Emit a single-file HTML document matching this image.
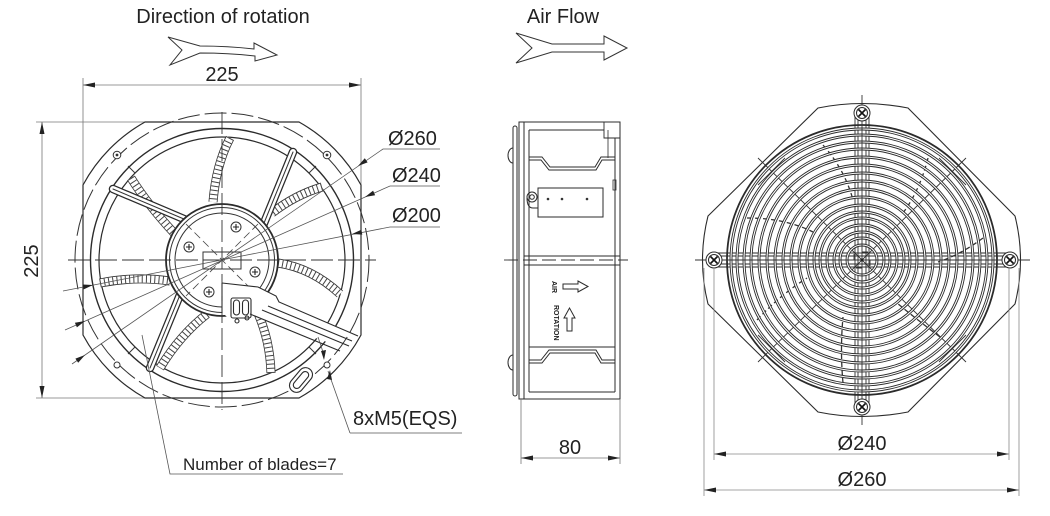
<!DOCTYPE html>
<html><head><meta charset="utf-8"><style>
html,body{margin:0;padding:0;background:#fff;}
svg{display:block;}
text{font-family:"Liberation Sans",Arial,sans-serif;fill:#222;}
</style></head><body>
<svg width="1050" height="516" viewBox="0 0 1050 516" xmlns="http://www.w3.org/2000/svg">
<rect width="1050" height="516" fill="#fff"/>

<!-- Titles -->
<text x="223" y="23" font-size="20" text-anchor="middle">Direction of rotation</text>
<text x="563" y="23" font-size="20" text-anchor="middle">Air Flow</text>
<path d="M168,37 L200,46 Q228,46 254,49 L254,43 L277,55 L255,61 L255,56 Q228,53 200,53 L170,65 L182,50 Z" fill="#fff" stroke="#333" stroke-width="1"/>
<path d="M516,33 L552,44 L604,44 L604,36 L627,48 L604,60 L604,52 L552,52 L516,63 L532,48 Z" fill="#fff" stroke="#333" stroke-width="1"/>

<!-- ================= FRONT VIEW ================= -->
<g stroke="#777" stroke-width="0.8" fill="none">
  <line x1="83" y1="78" x2="83" y2="186"/>
  <line x1="361" y1="78" x2="361" y2="186"/>
  <line x1="83" y1="85" x2="361" y2="85"/>
  <line x1="36" y1="122" x2="146" y2="122"/>
  <line x1="36" y1="398" x2="146" y2="398"/>
  <line x1="42" y1="122" x2="42" y2="398"/>
</g>
<g fill="#222">
  <polygon points="83,85 95,82.5 95,87.5"/>
  <polygon points="361,85 349,82.5 349,87.5"/>
  <polygon points="42,122 39.5,134 44.5,134"/>
  <polygon points="42,398 39.5,386 44.5,386"/>
</g>
<text x="222" y="81" font-size="20" text-anchor="middle">225</text>
<text transform="translate(38,261) rotate(-90)" font-size="20" text-anchor="middle">225</text>

<!-- flange -->
<path d="M145,122 L299,122 A158,158 0 0 1 361,185 L361,335 A158,158 0 0 1 299,398 L145,398 A158,158 0 0 1 83,335 L83,185 A158,158 0 0 1 145,122 Z" fill="none" stroke="#2b2b2b" stroke-width="1.2"/>
<circle cx="222" cy="260" r="147" fill="none" stroke="#333" stroke-width="1" stroke-dasharray="22 5"/>
<circle cx="222" cy="260" r="131.5" fill="none" stroke="#2b2b2b" stroke-width="1.4"/>
<circle cx="222" cy="260" r="123" fill="none" stroke="#2b2b2b" stroke-width="1.2"/>
<g stroke="#333" stroke-width="1">
  <line x1="128" y1="166" x2="135" y2="173"/>
  <line x1="316" y1="166" x2="309" y2="173"/>
  <line x1="128" y1="354" x2="135" y2="347"/>
  <line x1="316" y1="354" x2="309" y2="347"/>
</g>
<g stroke="#333" stroke-width="1" fill="#fff">
  <circle cx="117" cy="155" r="3.8"/><circle cx="327" cy="155" r="3.8"/>
  <circle cx="117" cy="365" r="3"/><circle cx="327" cy="365" r="3"/>
</g>
<g fill="#333"><circle cx="117" cy="155" r="1.4"/><circle cx="327" cy="155" r="1.4"/></g>

<!-- hatched blade bands -->
<g fill="none" stroke-linecap="butt">
  <g stroke="#333" stroke-width="9">
    <path d="M230,138 Q216,165 213,202"/><path d="M131,178 Q148,205 174,233"/><path d="M322,187 Q295,195 272,213"/>
    <path d="M278,263 Q312,268 340,294"/><path d="M100,283 Q135,276 170,281"/><path d="M207,314 Q180,335 160,368"/>
    <path d="M257,311 Q270,340 271,373"/>
  </g>
  <g stroke="#fff" stroke-width="7.4">
    <path d="M230,138 Q216,165 213,202"/><path d="M131,178 Q148,205 174,233"/><path d="M322,187 Q295,195 272,213"/>
    <path d="M278,263 Q312,268 340,294"/><path d="M100,283 Q135,276 170,281"/><path d="M207,314 Q180,335 160,368"/>
    <path d="M257,311 Q270,340 271,373"/>
  </g>
  <g stroke="#444" stroke-width="7.4" stroke-dasharray="1 3.2">
    <path d="M230,138 Q216,165 213,202"/><path d="M131,178 Q148,205 174,233"/><path d="M322,187 Q295,195 272,213"/>
    <path d="M278,263 Q312,268 340,294"/><path d="M100,283 Q135,276 170,281"/><path d="M207,314 Q180,335 160,368"/>
    <path d="M257,311 Q270,340 271,373"/>
  </g>
</g>
<!-- spokes -->
<g fill="none" stroke-linecap="round">
  <g stroke="#2b2b2b" stroke-width="8.5">
    <path d="M113,189 L191,222"/><path d="M293,152 L262,228"/><path d="M182,290 L150,368"/>
  </g>
  <g stroke="#fff" stroke-width="6">
    <path d="M113,189 L191,222"/><path d="M293,152 L262,228"/><path d="M182,290 L150,368"/>
  </g>
  <g stroke="#333" stroke-width="1">
    <path d="M113,189 L191,222"/><path d="M293,152 L262,228"/><path d="M182,290 L150,368"/>
  </g>
</g>
<!-- hub -->
<circle cx="222" cy="260" r="56" fill="#fff" stroke="#2b2b2b" stroke-width="1.8"/>
<circle cx="222" cy="260" r="52.5" fill="none" stroke="#333" stroke-width="1"/>
<circle cx="222" cy="260" r="47" fill="none" stroke="#333" stroke-width="1"/>
<rect x="203" y="252" width="38" height="17" fill="none" stroke="#333" stroke-width="1"/>
<g stroke="#333" stroke-width="1" fill="#fff">
  <circle cx="236" cy="227" r="5"/><circle cx="189" cy="247" r="5"/><circle cx="255" cy="272" r="5"/><circle cx="209" cy="292" r="5"/>
</g>
<g stroke="#222" stroke-width="1.1">
  <path d="M233,227 h6 M236,224 v6"/><path d="M186,247 h6 M189,244 v6"/><path d="M252,272 h6 M255,269 v6"/><path d="M206,292 h6 M209,289 v6"/>
</g>
<g stroke="#444" stroke-width="0.8" stroke-dasharray="8 4" fill="none">
  <line x1="186" y1="224" x2="258" y2="296"/><line x1="258" y1="224" x2="186" y2="296"/>
</g>

<!-- cable channel -->
<path d="M222,283 L258,287 L276,296 L279,302 L345,330 L338,346 L249,314 L240,321 L229,319 L222,312 Z" fill="#fff" stroke="none"/>
<g fill="none" stroke="#2b2b2b" stroke-width="1.1">
  <path d="M222,283 L258,287 L276,296 L279,302 L358,336"/>
  <path d="M268,306 L352,341"/>
  <path d="M262,310 L349,346"/>
  <path d="M250,314 L340,351"/>
  <line x1="222" y1="283" x2="222" y2="312"/>
  <rect x="231" y="298" width="20" height="20" rx="2"/>
  <rect x="233.5" y="300" width="6" height="15" rx="3"/>
  <rect x="242.5" y="300" width="6" height="15" rx="3"/>
  <circle cx="237" cy="321" r="2"/><circle cx="247" cy="318" r="2"/>
</g>
<g transform="translate(301,380) rotate(-50)" fill="#fff" stroke="#2b2b2b" stroke-width="1.1">
  <rect x="-14" y="-7" width="28" height="14" rx="7"/>
  <rect x="-10" y="-3.5" width="20" height="7" rx="3.5"/>
</g>

<!-- center lines -->
<g stroke="#333" stroke-width="0.9" fill="none" stroke-dasharray="22 5">
  <line x1="68" y1="260" x2="376" y2="260"/>
  <line x1="222" y1="112" x2="222" y2="410"/>
</g>

<!-- diameter leader lines -->
<g stroke="#555" stroke-width="0.8" fill="none">
  <path d="M72,364 L383,149 L440,149"/>
  <path d="M65,330 L390,186 L440,186"/>
  <path d="M63,291 L390,227 L440,227"/>
  <path d="M142,335 L170,474 L343,474"/>
  <path d="M350,433 L462,433"/>
  <path d="M350,433 L328,371"/>
  <path d="M318,337 L323,352"/>
</g>
<g fill="#222">
  <polygon points="85,355 78.2,362.8 75.4,358.6"/>
  <polygon points="358,166 367.6,162.4 364.8,158.2"/>
  <polygon points="85,321 76.9,327.4 74.9,322.8"/>
  <polygon points="365,197 375.1,195.2 373.1,190.6"/>
  <polygon points="93,285 83.7,289.4 82.7,284.5"/>
  <polygon points="352,234 362.3,234.6 361.3,229.7"/>
  <polygon points="324,360 321,351 326,350"/>
  <polygon points="330,370 327,379 332,380"/>
</g>
<text x="388" y="145" font-size="20">Ø260</text>
<text x="392" y="182" font-size="20">Ø240</text>
<text x="392" y="222" font-size="20">Ø200</text>
<text x="353" y="425" font-size="20">8xM5(EQS)</text>
<text x="183" y="470" font-size="17">Number of blades=7</text>

<!-- ================= SIDE VIEW ================= -->
<g fill="none" stroke="#2b2b2b" stroke-width="1">
  <rect x="513" y="126" width="4" height="270" rx="2"/>
  <rect x="519" y="122" width="5" height="277"/>
  <rect x="524" y="122" width="96" height="277"/>
  <line x1="529" y1="130" x2="529" y2="392"/>
  <line x1="615" y1="138" x2="615" y2="392"/>
  <line x1="529" y1="130" x2="604" y2="130"/>
  <line x1="529" y1="392" x2="615" y2="392"/>
  <polyline points="604,122 604,138 620,138" stroke-width="0.9"/>
  <line x1="608" y1="130" x2="608" y2="158" stroke-width="0.8"/>
  <polyline points="529,157 542,157 550,167 595,167 601,157 615,157"/>
  <polyline points="529,160 541,160 549,170 596,170 602,160 615,160"/>
  <polyline points="529,363 542,363 550,353 595,353 601,363 615,363"/>
  <polyline points="529,360 541,360 549,350 596,350 602,360 615,360"/>
  <line x1="529" y1="347" x2="615" y2="347"/>
  <rect x="538" y="188" width="65" height="29"/>
  <circle cx="532" cy="197" r="5"/>
  <circle cx="532" cy="197" r="2.3"/>
  <path d="M527,198 Q527,208 533,208 L538,208"/>
  <line x1="524" y1="256" x2="620" y2="256"/>
  <line x1="524" y1="265" x2="620" y2="265"/>
  <path d="M513,148 A5,7.5 0 0 0 513,163"/>
  <path d="M513,355 A5,7.5 0 0 0 513,370"/>
  <rect x="613" y="180" width="3" height="10" stroke-width="0.8"/>
  <path d="M563,284 L578,284 L578,281 L588,286.5 L578,292 L578,289 L563,289 Z"/>
  <path d="M567,331 L567,318 L564,318 L569.5,308 L575,318 L572,318 L572,331 Z"/>
</g>
<g fill="#333"><circle cx="548" cy="199" r="1.3"/><circle cx="562" cy="199" r="1.3"/><circle cx="587" cy="199" r="1.3"/></g>
<line x1="504" y1="260" x2="628" y2="260" stroke="#333" stroke-width="0.9" stroke-dasharray="14 5"/>
<text transform="translate(552,281) rotate(90)" font-size="7" font-weight="bold">AIR</text>
<text transform="translate(554,305) rotate(90)" font-size="7" font-weight="bold">ROTATION</text>
<g stroke="#777" stroke-width="0.8">
  <line x1="521" y1="399" x2="521" y2="464"/>
  <line x1="620" y1="399" x2="620" y2="464"/>
  <line x1="521" y1="458" x2="620" y2="458"/>
</g>
<g fill="#222">
  <polygon points="521,458 533,455.5 533,460.5"/>
  <polygon points="620,458 608,455.5 608,460.5"/>
</g>
<text x="570" y="454" font-size="20" text-anchor="middle">80</text>

<!-- ================= GRILLE VIEW ================= -->
<path d="M818,108 Q862,99 908,108 L1015,216 Q1026,260 1015,304 L908,412 Q862,421 818,412 L708,304 Q697,260 708,216 Z" fill="none" stroke="#2b2b2b" stroke-width="1.1"/>
<g fill="none" stroke="#333" stroke-width="1.3" stroke-dasharray="5 3">
  <path d="M747,218 Q785,218 813,232"/>
  <path d="M823,145 Q845,170 853,200"/>
  <path d="M928,158 Q920,190 903,213"/>
  <path d="M983,238 Q960,255 938,262"/>
  <path d="M940,337 Q915,318 897,303"/>
  <path d="M843,383 Q840,350 843,317"/>
  <path d="M757,320 Q780,295 807,278"/>
</g>
<g stroke="#333" stroke-width="0.9">
  <line x1="758" y1="158" x2="966" y2="362"/>
  <line x1="966" y1="158" x2="758" y2="362"/>
  <line x1="758" y1="185" x2="785" y2="158"/>
  <line x1="939" y1="158" x2="966" y2="185"/>
  <line x1="758" y1="335" x2="785" y2="362"/>
  <line x1="939" y1="362" x2="966" y2="335"/>
</g>
<!-- spoke bars (line pairs) -->
<g stroke="#2b2b2b" stroke-width="0.9">
  <line x1="855" y1="113" x2="855" y2="407"/><line x1="858" y1="113" x2="858" y2="407"/>
  <line x1="866" y1="113" x2="866" y2="407"/><line x1="869" y1="113" x2="869" y2="407"/>
  <line x1="714" y1="253" x2="1010" y2="253"/><line x1="714" y1="256" x2="1010" y2="256"/>
  <line x1="714" y1="264" x2="1010" y2="264"/><line x1="714" y1="267" x2="1010" y2="267"/>
</g>
<!-- rings -->
<g fill="none" stroke="#2b2b2b" stroke-width="2.9">
  <circle cx="862" cy="260" r="15"/><circle cx="862" cy="260" r="22"/>
  <circle cx="862" cy="260" r="28"/><circle cx="862" cy="260" r="35"/><circle cx="862" cy="260" r="42"/>
  <circle cx="862" cy="260" r="48"/><circle cx="862" cy="260" r="55"/><circle cx="862" cy="260" r="63"/>
  <circle cx="862" cy="260" r="71"/><circle cx="862" cy="260" r="79"/><circle cx="862" cy="260" r="87"/>
  <circle cx="862" cy="260" r="95"/><circle cx="862" cy="260" r="103"/><circle cx="862" cy="260" r="111"/>
  <circle cx="862" cy="260" r="118"/><circle cx="862" cy="260" r="125"/><circle cx="862" cy="260" r="131"/>
</g>
<g fill="none" stroke="#fff" stroke-width="1.1">
  <circle cx="862" cy="260" r="15"/><circle cx="862" cy="260" r="22"/>
  <circle cx="862" cy="260" r="28"/><circle cx="862" cy="260" r="35"/><circle cx="862" cy="260" r="42"/>
  <circle cx="862" cy="260" r="48"/><circle cx="862" cy="260" r="55"/><circle cx="862" cy="260" r="63"/>
  <circle cx="862" cy="260" r="71"/><circle cx="862" cy="260" r="79"/><circle cx="862" cy="260" r="87"/>
  <circle cx="862" cy="260" r="95"/><circle cx="862" cy="260" r="103"/><circle cx="862" cy="260" r="111"/>
  <circle cx="862" cy="260" r="118"/><circle cx="862" cy="260" r="125"/><circle cx="862" cy="260" r="131"/>
</g>
<circle cx="862" cy="260" r="135" fill="none" stroke="#2b2b2b" stroke-width="1.8"/>
<g fill="none" stroke="#333" stroke-width="0.9">
  <line x1="862" y1="95" x2="862" y2="425"/>
  <line x1="695" y1="260" x2="1030" y2="260"/>
  <path d="M862,252 h6 M862,268 h-6 M854,260 v-6 M870,260 v6"/>
</g>
<circle cx="862" cy="260" r="1.6" fill="#222"/>
<!-- screws -->
<g fill="#fff" stroke="#2b2b2b" stroke-width="1">
  <circle cx="862" cy="113" r="8"/><circle cx="862" cy="407" r="8"/><circle cx="714" cy="260" r="8"/><circle cx="1010" cy="260" r="8"/>
  <circle cx="862" cy="113" r="5.5"/><circle cx="862" cy="407" r="5.5"/><circle cx="714" cy="260" r="5.5"/><circle cx="1010" cy="260" r="5.5"/>
</g>
<g stroke="#111" stroke-width="1.6">
  <path d="M858.5,109.5 l7,7 M865.5,109.5 l-7,7"/>
  <path d="M858.5,403.5 l7,7 M865.5,403.5 l-7,7"/>
  <path d="M710.5,256.5 l7,7 M717.5,256.5 l-7,7"/>
  <path d="M1006.5,256.5 l7,7 M1013.5,256.5 l-7,7"/>
</g>
<!-- dims -->
<g stroke="#888" stroke-width="0.8">
  <line x1="704" y1="268" x2="704" y2="496"/>
  <line x1="714" y1="268" x2="714" y2="460"/>
  <line x1="1009" y1="268" x2="1009" y2="460"/>
  <line x1="1019" y1="268" x2="1019" y2="496"/>
  <line x1="714" y1="454" x2="1009" y2="454"/>
  <line x1="704" y1="490" x2="1019" y2="490"/>
</g>
<g fill="#222">
  <polygon points="714,454 726,451.5 726,456.5"/>
  <polygon points="1009,454 997,451.5 997,456.5"/>
  <polygon points="704,490 716,487.5 716,492.5"/>
  <polygon points="1019,490 1007,487.5 1007,492.5"/>
</g>
<text x="862" y="450" font-size="20" text-anchor="middle">Ø240</text>
<text x="862" y="486" font-size="20" text-anchor="middle">Ø260</text>
</svg>
</body></html>
